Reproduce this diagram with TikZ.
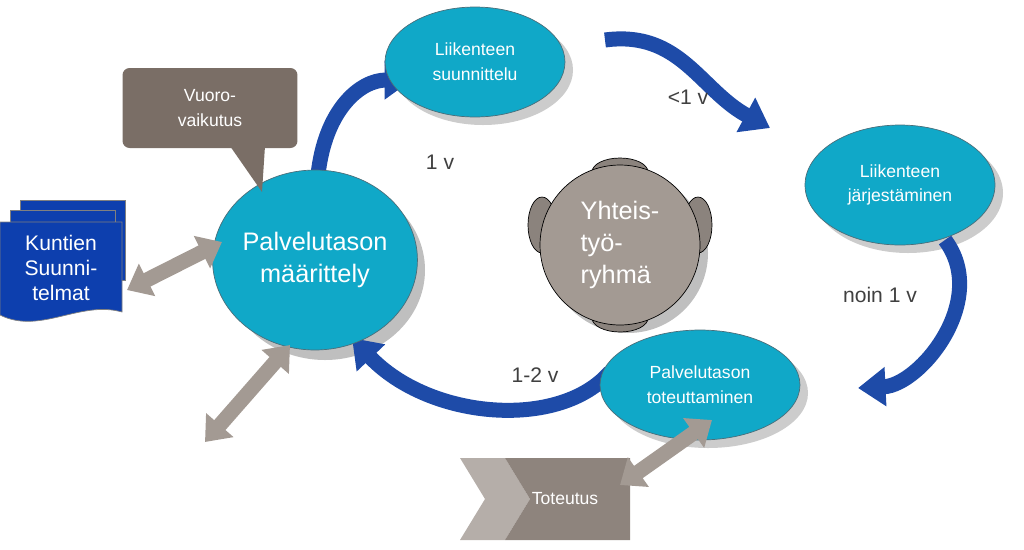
\documentclass[tikz,border=0pt]{standalone}
\usepackage{fontspec}
\setmainfont{Liberation Sans}
\usetikzlibrary{shapes.geometric,arrows.meta,positioning}
\definecolor{cyanfill}{HTML}{10A8C8}
\definecolor{cyanline}{HTML}{4A6E7A}
\definecolor{flowblue}{HTML}{1E4BA8}
\definecolor{docblue}{HTML}{0D3FAE}
\definecolor{warmgray}{HTML}{A39A93}
\definecolor{callbrown}{HTML}{7A6E66}
\begin{document}
\begin{tikzpicture}[x=0.02cm,y=-0.02cm,font=\normalsize]
  \tikzset{
    phase/.style={ellipse,fill=cyanfill,draw=cyanline,text=white,align=center,inner sep=0pt},
    flow/.style={line width=0.3cm,flowblue,-{Triangle[length=0.55cm,width=0.75cm]}},
    link/.style={line width=0.3cm,warmgray,{Triangle[length=0.45cm,width=0.7cm]}-{Triangle[length=0.45cm,width=0.7cm]}},
    lbl/.style={text=black!75,font=\large}
  }
  \useasboundingbox (0,0) rectangle (1024,549);

  % shadows
  \fill [black!25] (325,270) ellipse [x radius=100,y radius=90];
  \fill [black!25] (628,253) circle [radius=80];
  \fill [black!20] (483,70) ellipse [x radius=90,y radius=55];
  \fill [black!20] (908,193) ellipse [x radius=95,y radius=60];
  \fill [black!20] (708,393) ellipse [x radius=100,y radius=55];

  % blue flow arrows
  \draw [flow] (318,175) .. controls (325,110) and (360,80) .. (412,80);
  \draw [flow] (605,40) .. controls (680,30) and (700,90) .. (770,128);
  \draw [flow] (945,240) .. controls (990,300) and (920,385) .. (858,388);
  \draw [flow] (610,372) .. controls (560,430) and (430,420) .. (352,338);

  % phases
  \node [phase,minimum width=4cm,minimum height=3.6cm,font=\Large] (define) at (315,260) {Palvelutason\\määrittely};
  \node [phase,minimum width=3.6cm,minimum height=2.2cm] (plan) at (475,62) {Liikenteen\\[2pt]suunnittelu};
  \node [phase,minimum width=3.8cm,minimum height=2.4cm] (organise) at (900,185) {Liikenteen\\[2pt]järjestäminen};
  \node [phase,minimum width=4cm,minimum height=2.2cm] (implement) at (700,385) {Palvelutason\\[2pt]toteuttaminen};

  % table
  \draw [fill=warmgray!85!black] (542,225) ellipse [x radius=14,y radius=28];
  \draw [fill=warmgray!85!black] (698,225) ellipse [x radius=14,y radius=28];
  \draw [fill=warmgray!85!black] (620,172) ellipse [x radius=28,y radius=14];
  \draw [fill=warmgray!85!black] (620,318) ellipse [x radius=28,y radius=14];
  \node [circle,fill=warmgray,draw=black,minimum size=3.2cm,text=white,font=\Large,align=left] (group) at (620,245) {Yhteis-\\työ-\\ryhmä};

  % labels
  \node [lbl] (t1) at (440,162) {1 v};
  \node [lbl] (t2) at (688,97) {<1 v};
  \node [lbl] (t3) at (880,295) {noin 1 v};
  \node [lbl] (t4) at (535,375) {1-2 v};

  % callout
  \fill [callbrown] (230,146) -- (262,192) -- (265,146) -- cycle;
  \node [fill=callbrown,rounded corners=4,text=white,minimum width=3.5cm,minimum height=1.6cm,align=center] (talk) at (210,108) {Vuoro-\\[2pt]vaikutus};

  % document stack
  \foreach \d in {20,10}
    \draw [fill=docblue,draw=black!50] (\d,220-\d) rectangle (125+\d-20,300-\d);
  \draw [fill=docblue,draw=black!50] (0,222) -- (122,222) -- (122,312) .. controls (80,300) and (40,335) .. (0,315) -- cycle;
  \node [text=white,align=center,font=\large] (docs) at (61,268) {Kuntien\\Suunni-\\telmat};

  % toteutus
  \fill [warmgray!80] (460,458) -- (505,458) -- (530,499) -- (505,540) -- (460,540) -- (485,499) -- cycle;
  \fill [callbrown!85] (505,458) -- (630,458) -- (630,540) -- (505,540) -- (530,499) -- cycle;
  \node [text=white] (toteutus) at (565,499) {Toteutus};

  % gray links
  \draw [link] (127,290) -- (222,242);
  \draw [link] (205,442) -- (290,345);
  \draw [link] (620,485) -- (712,420);
\end{tikzpicture}
\end{document}
